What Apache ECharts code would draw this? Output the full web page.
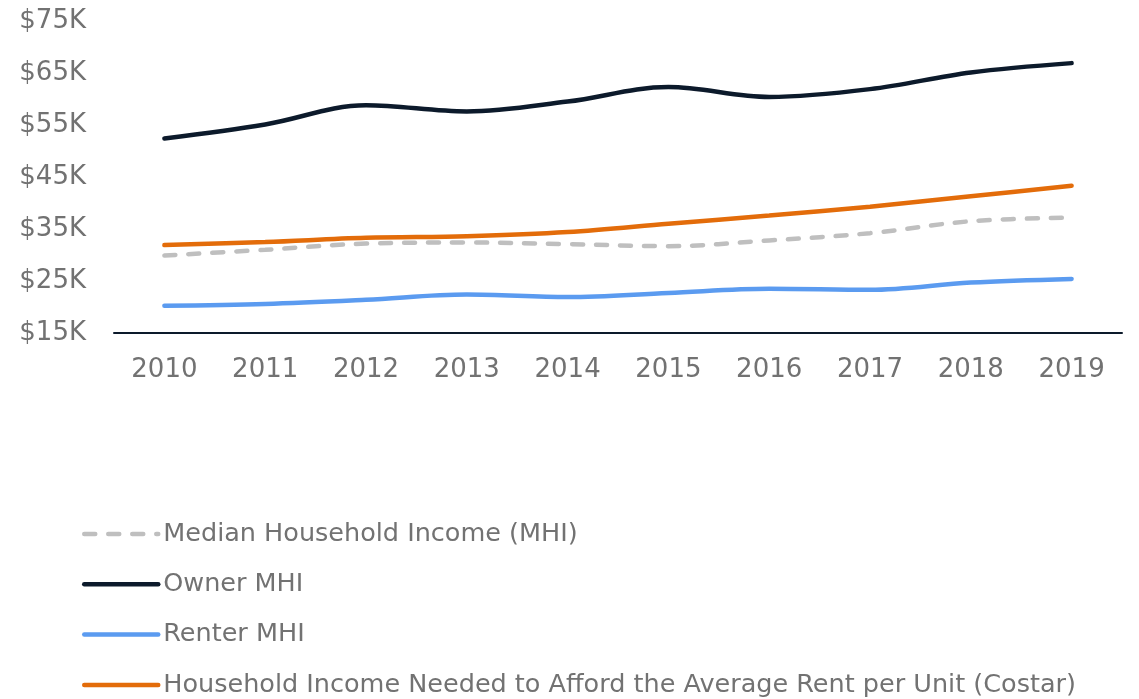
<!DOCTYPE html>
<html>
<head>
<meta charset="utf-8">
<script src="https://cdn.jsdelivr.net/npm/echarts@6/dist/echarts.min.js"></script>
<style>
html,body{margin:0;padding:0;background:#fff;}
#chart{width:1139px;height:699px;}
</style>
</head>
<body>
<div id="chart"></div>
<script>
const years = ['2010','2011','2012','2013','2014','2015','2016','2017','2018','2019'];
const mhi = [29.9, 31.0, 32.2, 32.4, 32.1, 31.7, 32.8, 34.2, 36.5, 37.2];
const ownerMhi = [52.4, 55.1, 58.8, 57.6, 59.5, 62.3, 60.4, 61.9, 65.1, 66.9];
const renterMhi = [20.25, 20.6, 21.4, 22.4, 21.9, 22.7, 23.5, 23.3, 24.7, 25.4];
const neededIncome = [31.9, 32.5, 33.3, 33.6, 34.4, 36.0, 37.6, 39.3, 41.3, 43.3];
const seriesNames = ['Median Household Income (MHI)','Owner MHI','Renter MHI','Household Income Needed to Afford the Average Rent per Unit (Costar)'];

const FONT = 'DejaVu Sans';
const TXT = '#727272';
const chart = echarts.init(document.getElementById('chart'), null, {renderer:'canvas'});

function line(name, data, color, dashed){
  return {
    name, type:'line', data, smooth:0.35, symbol:'none', showSymbol:false,
    lineStyle:{color, width:4.5, type: dashed ? [11,13] : 'solid', cap:'round'},
    itemStyle:{color}
  };
}

chart.setOption({
  animation:false,
  grid:{left:114, right:17, top:21, bottom:366},
  xAxis:{
    type:'category', data:years, boundaryGap:true,
    axisLine:{lineStyle:{color:'#0c1a2b', width:2}},
    axisTick:{show:false},
    axisLabel:{color:TXT, fontFamily:FONT, fontSize:26, margin:24}
  },
  yAxis:{
    type:'value', min:15, max:75, interval:10,
    splitLine:{show:false}, axisLine:{show:false}, axisTick:{show:false},
    axisLabel:{color:TXT, fontFamily:FONT, fontSize:26, margin:28, formatter: v => '$' + v + 'K'}
  },
  legend:{
    orient:'vertical', left:82, top:521, padding:0,
    itemWidth:74, itemHeight:14, itemGap:24.3,
    itemStyle:{color:'rgba(0,0,0,0)', borderWidth:0, opacity:0},
    lineStyle:{width:4.5, cap:'round'},
    textStyle:{color:TXT, fontFamily:FONT, fontSize:25.5},
    data:seriesNames
  },
  series:[
    line(seriesNames[0], mhi, '#bfbfbf', true),
    line(seriesNames[1], ownerMhi, '#0c1a2b', false),
    line(seriesNames[2], renterMhi, '#5b9bf0', false),
    line(seriesNames[3], neededIncome, '#e36c0a', false)
  ]
});
</script>
</body>
</html>
